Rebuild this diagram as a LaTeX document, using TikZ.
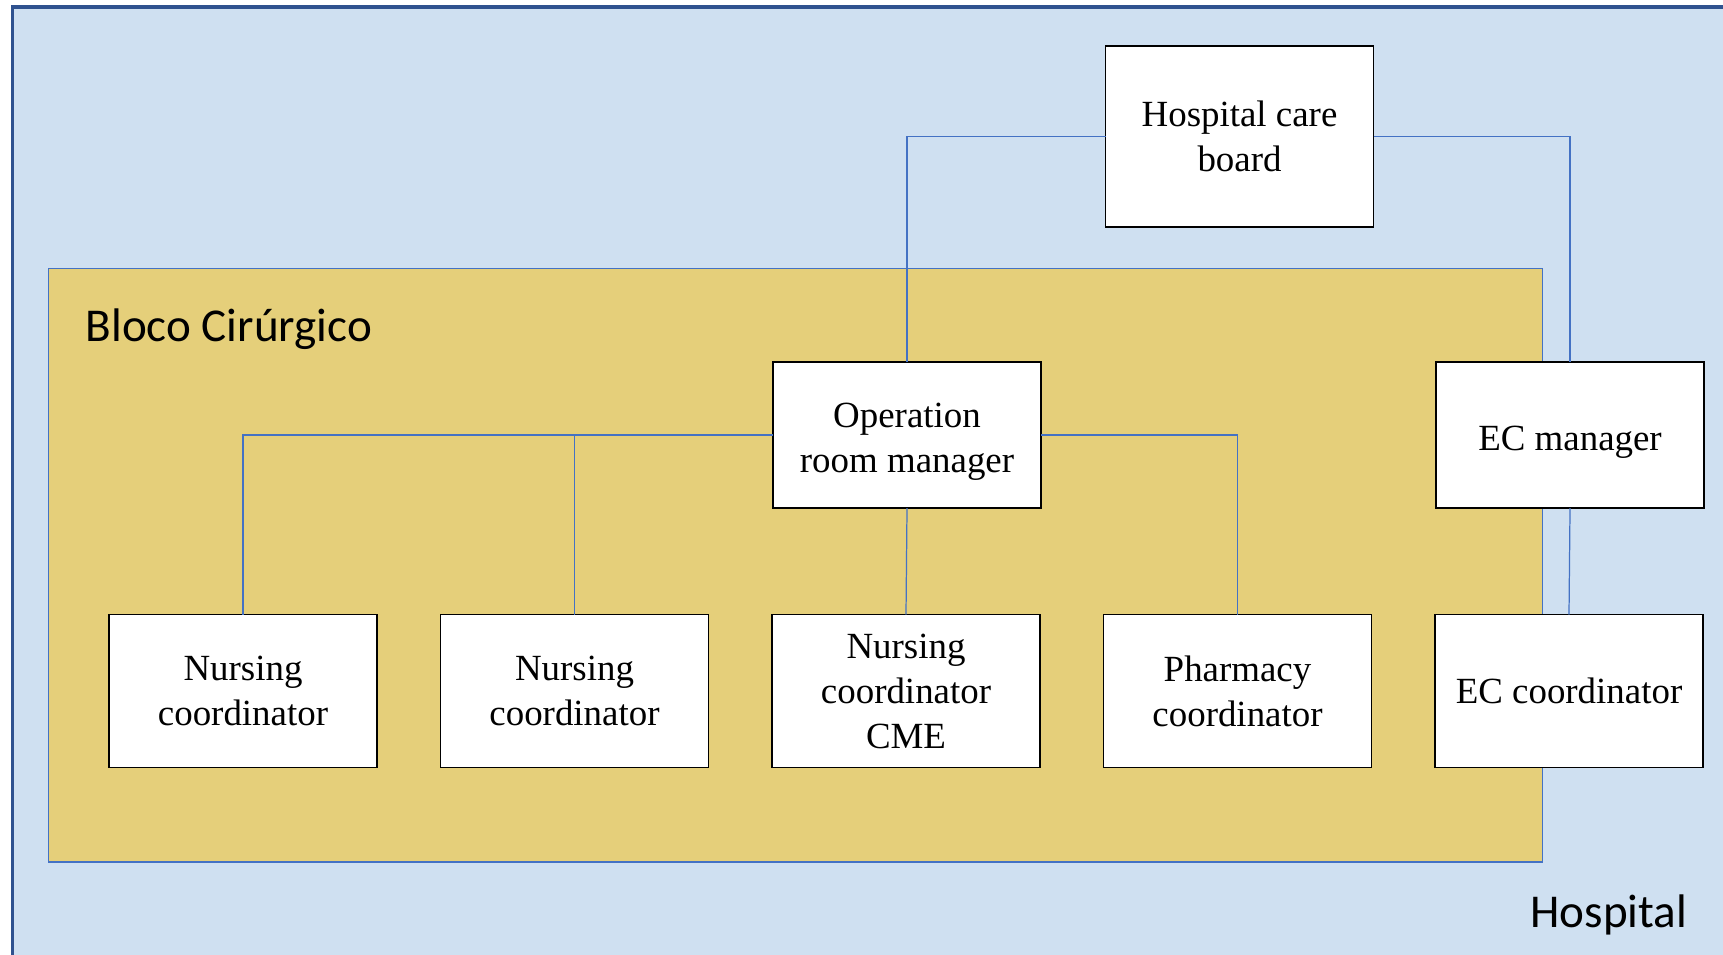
\documentclass[tikz,border=0pt]{standalone}
\usepackage{fontspec}
\setmainfont{Liberation Serif}
\newfontfamily\areafont{Carlito}
\usetikzlibrary{positioning}
\definecolor{hospfill}{RGB}{207,224,241}
\definecolor{hospline}{RGB}{47,82,143}
\definecolor{blocofill}{RGB}{229,207,122}
\definecolor{linkblue}{RGB}{68,114,196}
\newcommand{\sinktext}{\rule{0pt}{11pt}}

\begin{document}
\begin{tikzpicture}[x=0.1mm, y=-0.1mm, node distance=6.35mm,
                box/.style={draw, fill=white, line width=0.5pt, align=center,
                    font=\fontsize{10.5}{12.8}\selectfont, inner sep=0pt, outer sep=0pt,
                    minimum width=26.8mm, minimum height=14.6mm},
                low/.style={box, minimum height=15.3mm},
                link/.style={draw=linkblue, line width=0.35pt},
                area/.style={font=\areafont\fontsize{13.4}{16}\selectfont, inner sep=0pt}]
                \useasboundingbox (0,0) rectangle (1723,954);
                \clip (0,0) rectangle (1723,954);
                \fill[white] (0,0) rectangle (1723,954);
                \draw[fill=hospfill, draw=hospline, line width=0.9pt] (12.5,7) rectangle (1780,1000);
                \draw[fill=blocofill, draw=linkblue, line width=0.4pt] (48.5,268.5) rectangle (1542.5,862);
                \node[area, anchor=west] (bloco) at (85,329) {Bloco Cirúrgico};
                \node[area, anchor=east] (hosp) at (1688,915) {Hospital};
                \node[box, minimum height=18.1mm] (hcb) at (1239.5,136.5) {Hospital care\\board};
                \node[box] (orm) at (907,435) {\sinktext Operation\\room manager};
                \node[box] (ecm) at (1570,435) {\sinktext EC manager};
                \node[low] (nc1) at (243,691) {Nursing\\coordinator};
                \node[low, right=of nc1] (nc2) {Nursing\\coordinator};
                \node[low, right=of nc2] (ncme) {Nursing\\coordinator\\CME};
                \node[low, right=of ncme] (pharm) {Pharmacy\\coordinator};
                \node[low, right=of pharm] (ecc) {EC coordinator};
                \draw[link] (hcb.west) -| (orm.north);
                \draw[link] (hcb.east) -| (ecm.north);
                \draw[link] (ecm.south) -- (ecc.north);
                \draw[link] (orm.west) -| (nc1.north);
                \draw[link] (orm.west) -| (nc2.north);
                \draw[link] (orm.south) -- (ncme.north);
                \draw[link] (orm.east) -| (pharm.north);
            \end{tikzpicture}
\end{document}
